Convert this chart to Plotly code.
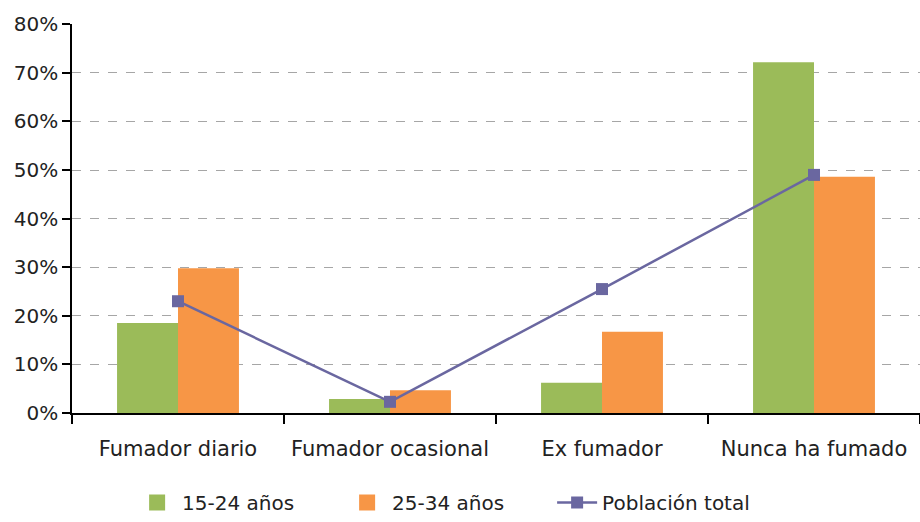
import plotly.graph_objects as go

categories = ["Fumador diario", "Fumador ocasional", "Ex fumador", "Nunca ha fumado"]
g15_24 = [18.5, 2.9, 6.2, 72.2]
g25_34 = [29.8, 4.7, 16.7, 48.6]
poblacion_total = [23.0, 2.3, 25.5, 49.0]
tick_vals = [0, 10, 20, 30, 40, 50, 60, 70, 80]
tick_text = [f"{v}%" for v in tick_vals]

GREEN, ORANGE, PURPLE = "#9BBB59", "#F79646", "#6A67A0"
FONT = "DejaVu Sans"
fig = go.Figure()
fig.add_trace(go.Bar(name="15-24 años", x=categories, y=g15_24, showlegend=False,
                     marker=dict(color=GREEN, line=dict(width=0))))
fig.add_trace(go.Bar(name="25-34 años", x=categories, y=g25_34, showlegend=False,
                     marker=dict(color=ORANGE, line=dict(width=0))))
fig.add_trace(go.Scatter(name="Población total", x=categories, y=poblacion_total,
                         mode="lines+markers", showlegend=False,
                         line=dict(color=PURPLE, width=2.5),
                         marker=dict(symbol="square", size=12, color=PURPLE)))
# legend entries
fig.add_trace(go.Scatter(name="15-24 años", x=[None], y=[None], mode="markers",
                         marker=dict(symbol="square", size=20, color=GREEN)))
fig.add_trace(go.Scatter(name="25-34 años", x=[None], y=[None], mode="markers",
                         marker=dict(symbol="square", size=20, color=ORANGE)))
fig.add_trace(go.Scatter(name="Población total", x=[None], y=[None],
                         mode="lines+markers",
                         line=dict(color=PURPLE, width=2.5),
                         marker=dict(symbol="square", size=12, color=PURPLE)))

fig.update_layout(
    width=920, height=522,
    margin=dict(l=72, r=0, t=24, b=109),
    paper_bgcolor="white", plot_bgcolor="white",
    barmode="group", bargap=0.425, bargroupgap=0,
    font=dict(family=FONT, size=20, color="#222222"),
    showlegend=True,
    legend=dict(orientation="h", xref="container", yref="container",
                x=0.486, xanchor="center", y=0.0, yanchor="bottom",
                font=dict(size=20, color="#222222"), itemwidth=40,
                entrywidth=155, traceorder="normal", borderwidth=0),
    xaxis=dict(range=[-0.5, 3.5], showline=True, linecolor="black", linewidth=1.5,
               ticks="outside", tickson="boundaries", ticklen=9, tickcolor="black",
               tickwidth=1.5, showgrid=False, tickfont=dict(size=21),
               ticklabelstandoff=16, automargin=False),
    yaxis=dict(range=[0, 80.05], tickvals=tick_vals, ticktext=tick_text,
               showline=True, linecolor="black", linewidth=1.5,
               ticks="outside", ticklen=8, tickcolor="black", tickwidth=1.5,
               showgrid=True, gridcolor="#A6A6A6", griddash="dash", gridwidth=1.2,
               zeroline=False, tickfont=dict(size=20), automargin=False),
)
fig.write_html("out.html", config={"displayModeBar": False},
               post_script="document.body.style.margin='0px';document.body.style.overflow='hidden';")
